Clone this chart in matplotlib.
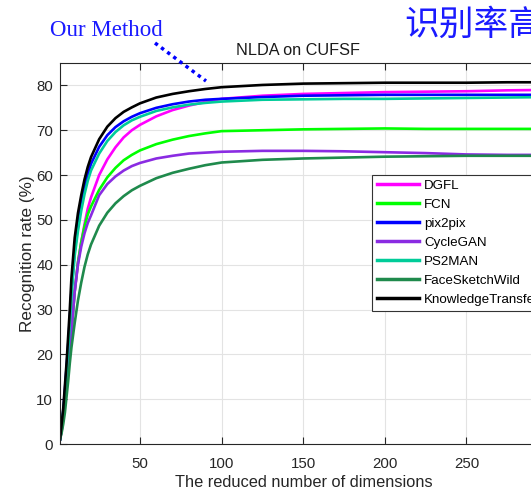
import matplotlib
matplotlib.use("Agg")
import matplotlib.pyplot as plt
from matplotlib.lines import Line2D

plt.rcParams['font.family'] = ['Liberation Sans', 'DejaVu Sans']

dims = [1, 2, 3, 4, 5, 6, 7, 8, 10, 12, 14, 16, 18, 20, 25, 30, 35, 40, 45, 50,
        60, 70, 80, 90, 100, 125, 150, 175, 200, 225, 250, 275, 300]

dgfl = [1, 3, 6, 9, 13, 17, 21, 25, 34, 40.5, 45, 49, 52.5, 55, 60, 63.5, 66.2, 68.4, 70, 71.2,
        73.1, 74.5, 75.5, 76.3, 77.0, 77.7, 78.1, 78.3, 78.5, 78.6, 78.7, 78.9, 79.0]
fcn = [1, 3, 6, 9, 13, 17, 21, 25, 34, 40.5, 45, 48.5, 51.2, 53, 56.7, 59.5, 61.6, 63.3, 64.5, 65.5,
       66.9, 67.9, 68.7, 69.3, 69.8, 70.0, 70.2, 70.3, 70.4, 70.3, 70.3, 70.3, 70.3]
pix2pix = [1, 4, 7.5, 12, 17, 22, 28, 34, 43, 49, 53.8, 57.3, 60.2, 62.5, 66.3, 68.9, 70.7, 72.0, 73.0, 73.8,
           75.0, 75.8, 76.4, 76.8, 77.0, 77.4, 77.7, 77.8, 77.9, 77.9, 77.9, 77.9, 77.9]
cyclegan = [1, 3, 6, 9, 13, 17, 21, 25, 34, 40, 44, 47, 49.3, 51, 55.5, 58, 59.7, 61, 62, 62.7,
            63.7, 64.3, 64.8, 65.0, 65.2, 65.4, 65.4, 65.3, 65.1, 64.9, 64.6, 64.5, 64.5]
ps2man = [1, 3.5, 7, 11, 16, 21, 27, 33, 42, 47.5, 52, 55.7, 58.7, 61, 64.8, 67.6, 69.6, 71.1, 72.2, 73.0,
          74.3, 75.1, 75.7, 76.1, 76.4, 76.8, 76.9, 77.0, 77.0, 77.1, 77.2, 77.3, 77.4]
fsw = [1, 2.5, 4.5, 7, 10.5, 14, 18, 21.5, 27, 32, 36, 39.5, 42.3, 44.5, 48.7, 51.6, 53.7, 55.3, 56.6, 57.6,
       59.3, 60.5, 61.4, 62.2, 62.8, 63.4, 63.7, 63.9, 64.1, 64.2, 64.3, 64.3, 64.3]
kt = [1, 4.5, 8, 13, 18, 24, 30, 37, 46, 51.5, 55.5, 59, 61.8, 64, 68, 70.8, 72.7, 74.1, 75.1, 76,
      77.3, 78.1, 78.7, 79.2, 79.6, 80.1, 80.4, 80.5, 80.6, 80.6, 80.6, 80.7, 80.7]

labels = ['DGFL', 'FCN', 'pix2pix', 'CycleGAN', 'PS2MAN', 'FaceSketchWild', 'KnowledgeTransfer']
series = [dgfl, fcn, pix2pix, cyclegan, ps2man, fsw, kt]
colors = ['#ff00ff', '#00ff00', '#0000ff', '#8a2be2', '#00cc99', '#1f8a4c', '#000000']
xticks = [50, 100, 150, 200, 250]
yticks = [0, 10, 20, 30, 40, 50, 60, 70, 80]

W, H = 531, 492
fig = plt.figure(figsize=(W / 100, H / 100), dpi=100)
left, right, top, bottom = 60, 548, 63, 444
ax = fig.add_axes([left / W, (H - bottom) / H, (right - left) / W, (bottom - top) / H])

for y, c, lab in zip(series, colors, labels):
    ax.plot(dims, y, color=c, lw=1.9, label=lab, solid_joinstyle='round')

ax.set_xlim(1, 300)
ax.set_ylim(0, 85)
ax.set_xticks(xticks)
ax.set_yticks(yticks)
ax.grid(True, color='#e3e3e3', lw=0.8)
ax.set_axisbelow(True)
for s in ax.spines.values():
    s.set_color('#262626')
    s.set_linewidth(0.8)
ax.tick_params(direction='in', length=5, width=0.8, color='#262626', top=True, right=True,
               labelsize=10.8, labelcolor='#262626')
ax.tick_params(axis='x', pad=9)
ax.tick_params(axis='y', pad=5)
ax.set_xlabel('The reduced number of dimensions', fontsize=11.8, color='#262626', labelpad=3)
ax.set_ylabel('Recognition rate (%)', fontsize=12.3, color='#262626', labelpad=1)
ax.set_title('NLDA on CUFSF', fontsize=11.7, color='#1a1a1a', x=0.488, pad=6)

handles = [Line2D([0], [0], color=c, lw=2.5) for c in colors]
leg = fig.legend(handles, labels, loc='upper left', bbox_to_anchor=(372 / W, 1 - 175 / H),
                 fontsize=9.6, handlelength=3.2, labelspacing=0.5, handletextpad=0.35,
                 borderpad=0.35, borderaxespad=0, fancybox=False, framealpha=1,
                 edgecolor='#333333')
leg.get_frame().set_linewidth(0.8)

fig.text(50 / W, 1 - 30 / H, 'Our Method', color='#1a1aff', fontsize=16.5,
         family='Liberation Serif', ha='left', va='center')
fig.add_artist(Line2D([155 / W, 206 / W], [1 - 43 / H, 1 - 81 / H], color='#0000ff',
                      lw=2.5, ls=(0, (1, 1.2))))
fig.text(404 / W, 1 - 25 / H, '识别率高效', color='#1a1aff', fontsize=25,
         family=['Noto Sans CJK SC', 'DejaVu Sans'], ha='left', va='center')

fig.savefig('out.png', dpi=100)
